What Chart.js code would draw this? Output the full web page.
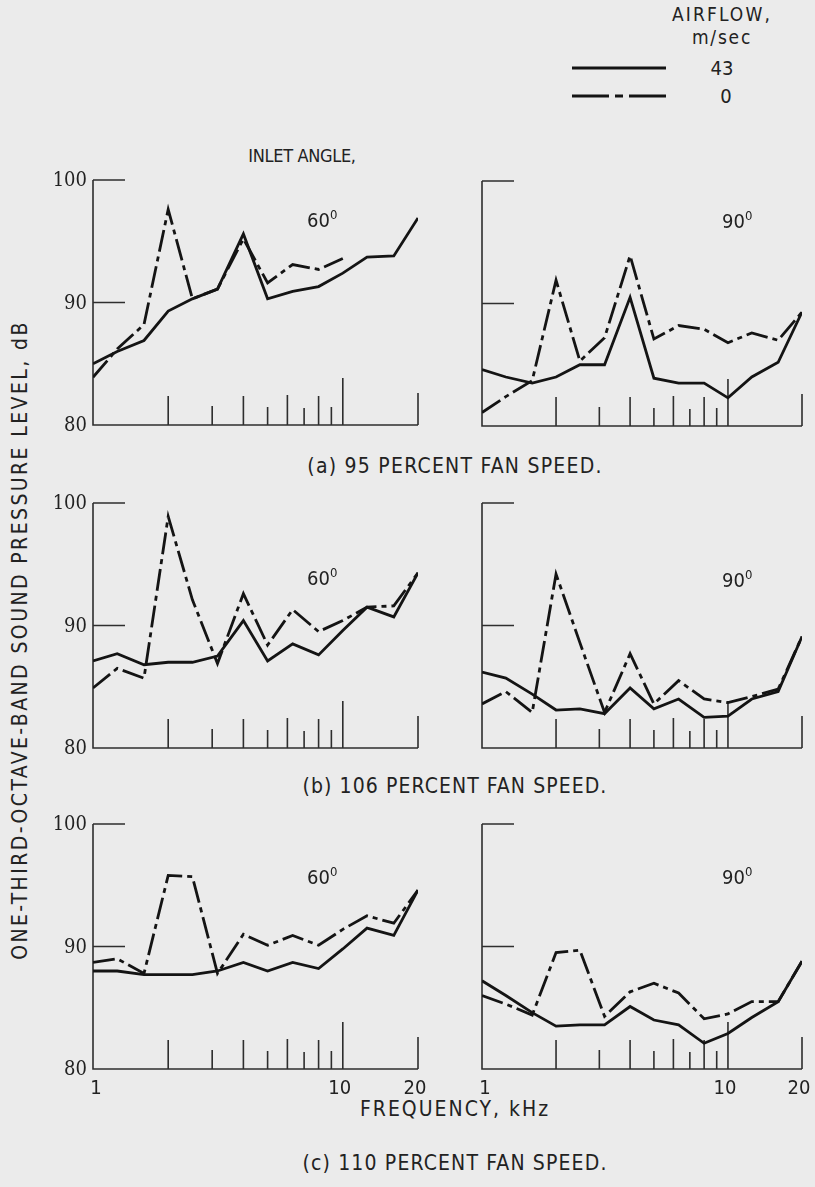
<!DOCTYPE html>
<html>
<head>
<meta charset="utf-8">
<script src="https://cdn.jsdelivr.net/npm/chart.js@4.4.1/dist/chart.umd.min.js"></script>
<style>
  html, body { margin: 0; padding: 0; background: #ebebeb; }
  body {
    width: 815px; height: 1187px; position: relative; overflow: hidden;
    font-family: "DejaVu Sans Condensed", "Liberation Sans Narrow", sans-serif;
    color: #222;
  }
  canvas { position: absolute; }
  .t { position: absolute; white-space: nowrap; line-height: 1; transform: translate(-50%, -50%); }
  .ang { position: absolute; white-space: nowrap; line-height: 1; font-size: 20px; transform: translateY(-50%); }
  .ang sup { font-size: 13px; vertical-align: 8px; line-height: 0; }
  .ytitle { transform: translate(-50%, -50%) rotate(-90deg); }
  svg { position: absolute; left: 0; top: 0; }
</style>
</head>
<body>

<div class="t" style="left:722px; top:14px; font-size:19px;" data-w="100">AIRFLOW,</div>
<div class="t" style="left:722px; top:37px; font-size:19px;" data-w="60">m/sec</div>
<div class="t" style="left:722px; top:68px; font-size:20px;">43</div>
<div class="t" style="left:726px; top:96px; font-size:20px;">0</div>
<svg width="815" height="120">
  <line x1="572" y1="68" x2="666" y2="68" stroke="#141414" stroke-width="3"/>
  <line x1="572" y1="96" x2="666" y2="96" stroke="#141414" stroke-width="3" stroke-dasharray="37 6 8 6"/>
</svg>
<div class="t" style="left:302px; top:156px; font-size:18px;" data-w="107">INLET ANGLE,</div>

<div class="t" style="left:455px; top:466px; font-size:21px;" data-w="295">(a) 95 PERCENT FAN SPEED.</div>
<div class="t" style="left:455px; top:786px; font-size:21px;" data-w="305">(b) 106 PERCENT FAN SPEED.</div>
<div class="t" style="left:455px; top:1109px; font-size:21px;" data-w="190">FREQUENCY, kHz</div>
<div class="t" style="left:455px; top:1163px; font-size:21px;" data-w="305">(c) 110 PERCENT FAN SPEED.</div>
<div class="t ytitle" style="left:20px; top:640px; font-size:21px;" data-w="640">ONE-THIRD-OCTAVE-BAND SOUND PRESSURE LEVEL, dB</div>

<script>
// One-third-octave band centre frequencies, kHz
const bands = [1, 1.25, 1.6, 2, 2.5, 3.15, 4, 5, 6.3, 8, 10, 12.5, 16, 20];

// (a) 95 percent fan speed
const a60_43 = [85.0, 86.0, 86.9, 89.3, 90.3, 91.1, 95.6, 90.3, 90.9, 91.3, 92.4, 93.7, 93.8, 96.9];
const a60_0  = [83.9, 86.2, 88.2, 97.6, 90.3, 91.1, 95.2, 91.6, 93.1, 92.7, 93.6, null, null, null];
const a90_43 = [84.6, 84.0, 83.5, 84.0, 85.0, 85.0, 90.5, 83.9, 83.5, 83.5, 82.3, 84.0, 85.2, 89.3];
const a90_0  = [81.1, 82.4, 83.7, 91.9, 85.3, 87.2, 93.9, 87.1, 88.2, 87.9, 86.8, 87.6, 87.0, 89.3];

// (b) 106 percent fan speed
const b60_43 = [87.1, 87.7, 86.8, 87.0, 87.0, 87.5, 90.4, 87.1, 88.5, 87.6, 89.6, 91.5, 90.7, 94.3];
const b60_0  = [84.9, 86.5, 85.7, 98.9, 92.1, 86.9, 92.6, 88.4, 91.3, 89.5, 90.4, 91.5, 91.6, 94.3];
const b90_43 = [86.2, 85.7, 84.4, 83.1, 83.2, 82.8, 84.9, 83.2, 84.0, 82.5, 82.6, 84.0, 84.6, 89.1];
const b90_0  = [83.6, 84.6, 82.9, 94.2, 88.6, 82.9, 87.7, 83.6, 85.5, 84.0, 83.7, 84.2, 84.8, 89.1];

// (c) 110 percent fan speed
const c60_43 = [88.0, 88.0, 87.7, 87.7, 87.7, 88.0, 88.7, 88.0, 88.7, 88.2, 89.8, 91.5, 90.9, 94.6];
const c60_0  = [88.7, 89.0, 87.8, 95.8, 95.7, 87.8, 91.0, 90.1, 90.9, 90.1, 91.4, 92.5, 91.9, 94.6];
const c90_43 = [87.2, 86.0, 84.6, 83.5, 83.6, 83.6, 85.1, 84.0, 83.6, 82.1, 82.9, 84.2, 85.5, 88.8];
const c90_0  = [86.0, 85.3, 84.4, 89.5, 89.7, 84.3, 86.3, 87.0, 86.2, 84.1, 84.5, 85.5, 85.5, 88.8];

// Axis ticks
const yTickValues = [100, 90, 80];
const xTickMarks  = [2, 3, 4, 5, 6, 7, 8, 9, 10, 20];
const xTickLabels = [1, 10, 20];

// Drawing style
const INK = '#141414';
const AXIS = '#2e2e2e';
const TEXT = '#222';
const DASH = [22, 5, 5, 5];
const tickLen = { 2: 29, 3: 19, 4: 29, 5: 18, 6: 30, 7: 17, 8: 29, 9: 18, 10: 47, 20: 32 };

// Panel layout: plot rectangle of each graph on the page
const panels = [
  { s43: a60_43, s0: a60_0, angle: '60', left: 93,  top: 180, w: 325, yLab: true,  xLab: false },
  { s43: a90_43, s0: a90_0, angle: '90', left: 482, top: 181, w: 320, yLab: false, xLab: false },
  { s43: b60_43, s0: b60_0, angle: '60', left: 93,  top: 503, w: 325, yLab: true,  xLab: false },
  { s43: b90_43, s0: b90_0, angle: '90', left: 482, top: 503, w: 320, yLab: false, xLab: false },
  { s43: c60_43, s0: c60_0, angle: '60', left: 93,  top: 824, w: 325, yLab: true,  xLab: true  },
  { s43: c90_43, s0: c90_0, angle: '90', left: 482, top: 824, w: 320, yLab: false, xLab: true  }
];
const PLOT_H = 245;
const angleLabelPos = [
  { x: 307, y: 220 }, { x: 722, y: 221 },
  { x: 307, y: 578 }, { x: 722, y: 580 },
  { x: 307, y: 877 }, { x: 722, y: 877 }
];

// Open frame: left axis, bottom axis and inward tick marks, with tick labels
const frame = {
  id: 'frame',
  beforeDatasetsDraw(chart, args, opts) {
    const { ctx, scales: { x, y } } = chart;
    const x0 = x.getPixelForValue(1);
    const x1 = x.getPixelForValue(20);
    const yTop = y.getPixelForValue(100);
    const yBot = y.getPixelForValue(80);
    ctx.save();
    ctx.strokeStyle = AXIS;
    ctx.lineWidth = 1.6;
    ctx.beginPath();
    ctx.moveTo(x0, yTop);
    ctx.lineTo(x0, yBot);
    ctx.lineTo(x1, yBot);
    yTickValues.forEach(v => {
      if (v > 80) {
        const p = y.getPixelForValue(v);
        ctx.moveTo(x0, p);
        ctx.lineTo(x0 + 32, p);
      }
    });
    xTickMarks.forEach(v => {
      const p = x.getPixelForValue(v);
      ctx.moveTo(p, yBot);
      ctx.lineTo(p, yBot - tickLen[v]);
    });
    ctx.stroke();

    ctx.fillStyle = TEXT;
    if (opts.yLab) {
      ctx.font = '20px "DejaVu Serif Condensed", "DejaVu Serif", serif';
      ctx.textAlign = 'right';
      ctx.textBaseline = 'middle';
      yTickValues.forEach(v => ctx.fillText(String(v), x0 - 6, y.getPixelForValue(v) + 1));
    }
    if (opts.xLab) {
      ctx.font = '20px "DejaVu Sans Condensed", "Liberation Sans Narrow", sans-serif';
      ctx.textAlign = 'center';
      ctx.textBaseline = 'middle';
      xTickLabels.forEach(v => ctx.fillText(String(v), x.getPixelForValue(v) + (v === 1 ? 3 : -3), yBot + 20));
    }
    ctx.restore();
  }
};

const PAD = { left: 60, right: 15, top: 15, bottom: 36 };

panels.forEach((p, i) => {
  const cv = document.createElement('canvas');
  cv.width = p.w + PAD.left + PAD.right;
  cv.height = PLOT_H + PAD.top + PAD.bottom;
  cv.style.left = (p.left - PAD.left) + 'px';
  cv.style.top = (p.top - PAD.top) + 'px';
  document.body.appendChild(cv);

  const pts = arr => bands.map((f, k) => ({ x: f, y: arr[k] }));

  new Chart(cv, {
    type: 'line',
    data: {
      datasets: [
        { label: '43', data: pts(p.s43), borderColor: INK, borderWidth: 2.8, pointRadius: 0, tension: 0, spanGaps: true },
        { label: '0',  data: pts(p.s0),  borderColor: INK, borderWidth: 2.8, pointRadius: 0, tension: 0, borderDash: DASH, spanGaps: false }
      ]
    },
    options: {
      responsive: false,
      animation: false,
      events: [],
      layout: { padding: PAD },
      scales: {
        x: { type: 'logarithmic', min: 1, max: 20, display: false },
        y: { type: 'linear', min: 80, max: 100, display: false }
      },
      plugins: {
        legend: { display: false },
        tooltip: { enabled: false },
        frame: { yLab: p.yLab, xLab: p.xLab }
      }
    },
    plugins: [frame]
  });

  const lab = document.createElement('div');
  lab.className = 'ang';
  lab.style.left = angleLabelPos[i].x + 'px';
  lab.style.top = angleLabelPos[i].y + 'px';
  lab.innerHTML = p.angle + '<sup>0</sup>';
  document.body.appendChild(lab);
});

// Spread caption lettering to the set line width
document.querySelectorAll('[data-w]').forEach(el => {
  const target = parseFloat(el.dataset.w);
  const n = el.textContent.length;
  const natural = el.offsetWidth;
  el.style.letterSpacing = ((target - natural) / n).toFixed(2) + 'px';
});
</script>
</body>
</html>
